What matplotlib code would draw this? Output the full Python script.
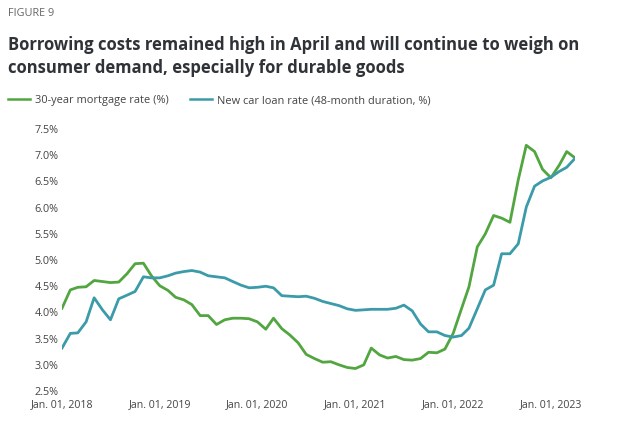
import numpy as np
import pandas as pd
import matplotlib
matplotlib.use("Agg")
import matplotlib.pyplot as plt

plt.rcParams['font.family'] = ['Open Sans', 'DejaVu Sans']

# monthly, Jan 2018 - Apr 2023
months = pd.date_range("2018-01-01", "2023-04-01", freq="MS")

mortgage = [
    4.06, 4.41, 4.46, 4.47, 4.59, 4.57, 4.55, 4.56, 4.72, 4.91, 4.92, 4.68,   # 2018
    4.49, 4.40, 4.27, 4.22, 4.13, 3.92, 3.92, 3.75, 3.84, 3.87, 3.87, 3.86,   # 2019
    3.80, 3.66, 3.87, 3.67, 3.55, 3.40, 3.18, 3.10, 3.03, 3.04, 2.98, 2.93,   # 2020
    2.91, 2.98, 3.30, 3.17, 3.11, 3.14, 3.08, 3.07, 3.10, 3.22, 3.21, 3.28,   # 2021
    3.58, 4.05, 4.47, 5.23, 5.48, 5.83, 5.78, 5.70, 6.51, 7.17, 7.05, 6.71,   # 2022
    6.55, 6.79, 7.05, 6.93,                                                   # 2023
]
car_loan = [
    3.30, 3.58, 3.59, 3.80, 4.26, 4.03, 3.84, 4.24, 4.31, 4.38, 4.66, 4.64,
    4.64, 4.68, 4.73, 4.76, 4.78, 4.75, 4.68, 4.66, 4.64, 4.57, 4.50, 4.45,
    4.46, 4.48, 4.45, 4.30, 4.29, 4.28, 4.29, 4.25, 4.19, 4.15, 4.11, 4.05,
    4.02, 4.03, 4.04, 4.04, 4.04, 4.06, 4.12, 4.01, 3.76, 3.61, 3.61, 3.54,
    3.51, 3.54, 3.68, 4.05, 4.41, 4.50, 5.10, 5.10, 5.29, 5.99, 6.39, 6.49,
    6.56, 6.67, 6.75, 6.92,
]
y_ticks = [2.5, 3.0, 3.5, 4.0, 4.5, 5.0, 5.5, 6.0, 6.5, 7.0, 7.5]
x_ticks = pd.date_range("2018-01-01", "2023-01-01", freq="YS")

green = "#52a640"
teal = "#3b9ba9"

fig = plt.figure(figsize=(6.4, 4.35), dpi=100)
ax = fig.add_axes([62 / 640, 44 / 435, 513 / 640, 262 / 435])

ax.plot(months, mortgage, color=green, lw=2.0, label="30-year mortgage rate (%)")
ax.plot(months, car_loan, color=teal, lw=2.0, label="New car loan rate (48-month duration, %)")

ax.set_xlim(months[0], months[-1])
ax.set_ylim(2.5, 7.5)
ax.set_yticks(y_ticks)
ax.set_yticklabels([f"{v:.1f}%" for v in y_ticks])
ax.set_xticks(x_ticks)
ax.set_xticklabels([d.strftime("Jan. %d, %Y") for d in x_ticks])
ax.tick_params(length=0, labelcolor="#444444")
ax.tick_params(axis="y", pad=2.5, labelsize=7.8)
ax.tick_params(axis="x", pad=6, labelsize=7.6)
for s in ax.spines.values():
    s.set_visible(False)

fig.text(8 / 640, 1 - 14 / 435, "FIGURE 9", fontsize=7.8, color="#666666", va="center")
fig.text(8 / 640, 1 - 45 / 435, "Borrowing costs remained high in April and will continue to weigh on",
         fontsize=12, fontweight="bold", color="#2f3237", va="center")
fig.text(8 / 640, 1 - 68 / 435, "consumer demand, especially for durable goods",
         fontsize=12, fontweight="bold", color="#2f3237", va="center")

leg = fig.legend(loc="center left", bbox_to_anchor=(-2 / 640, 1 - 101 / 435), ncol=2, frameon=False,
                 fontsize=7.9, handlelength=2.0, handletextpad=0.45, columnspacing=2.0)
for t in leg.get_texts():
    t.set_color("#444444")
for h in leg.legend_handles:
    h.set_linewidth(1.8)

fig.savefig("out.png", dpi=100)
